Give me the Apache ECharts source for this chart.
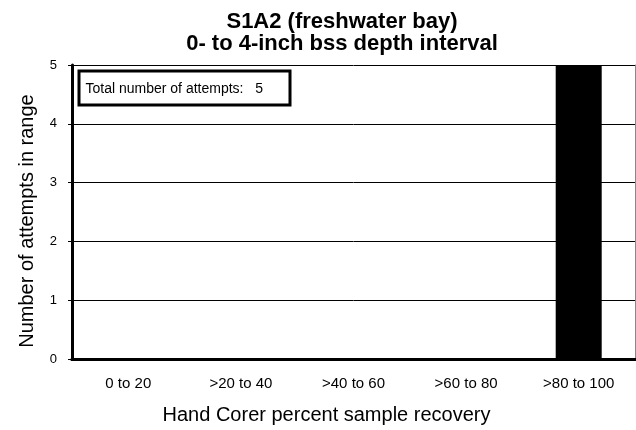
<!DOCTYPE html>
<html>
<head>
<meta charset="utf-8">
<script src="https://cdn.jsdelivr.net/npm/echarts@6/dist/echarts.min.js"></script>
<style>
  html, body { margin: 0; padding: 0; background: #fff; }
  #chart { width: 636px; height: 430px; }
</style>
</head>
<body>
<div id="chart"></div>
<script>
// recovery ranges (percent)
const categories = ['0 to 20', '>20 to 40', '>40 to 60', '>60 to 80', '>80 to 100']
// number of attempts per range
const attempts = [0, 0, 0, 0, 5]
const totalAttempts = 5

const chart = echarts.init(document.getElementById('chart'))
const font = 'Liberation Sans, Arial, sans-serif'
const narrow = 'Liberation Sans Narrow, Arial Narrow, Liberation Sans, sans-serif'

chart.setOption({
  animation: false,
  title: [
    {
      text: 'S1A2 (freshwater bay)\n0- to 4-inch bss depth interval',
      left: 342,
      textAlign: 'center',
      top: 11,
      padding: 0,
      textStyle: { fontFamily: font, fontSize: 22, fontWeight: 'bold', color: '#000', lineHeight: 22 }
    },
    {
      // total count box
      text: 'Total number of attempts:   ' + totalAttempts,
      left: 78.5,
      top: 70.5,
      padding: [12, 27, 9, 7],
      borderColor: '#000',
      borderWidth: 3,
      textStyle: { fontFamily: font, fontSize: 14, fontWeight: 'normal', color: '#000', lineHeight: 14 }
    }
  ],
  grid: {
    left: 72,
    right: 1,
    top: 65,
    bottom: 71
  },
  xAxis: [
    {
      type: 'category',
      data: categories,
      name: 'Hand Corer percent sample recovery',
      nameLocation: 'middle',
      nameGap: 46,
      nameTextStyle: { fontFamily: font, fontSize: 20, color: '#000', padding: [0, 54, 0, 0] },
      axisLine: { lineStyle: { color: '#000', width: 3 } },
      axisTick: { length: 6, lineStyle: { color: '#000', width: 1 } },
      axisLabel: { fontFamily: narrow, fontSize: 15, color: '#000', margin: 17 }
    },
    {
      // top border of the plot
      type: 'category',
      position: 'top',
      data: categories,
      axisLine: { lineStyle: { color: '#000', width: 3 } },
      axisTick: { show: false },
      axisLabel: { show: false }
    }
  ],
  yAxis: [
    {
      type: 'value',
      min: 0,
      max: 5,
      interval: 1,
      name: 'Number of attempts in range',
      nameLocation: 'middle',
      nameGap: 35,
      nameTextStyle: { fontFamily: font, fontSize: 20, color: '#000', padding: [0, 18, 0, 0] },
      axisLine: { show: true, lineStyle: { color: '#000', width: 3 } },
      axisTick: { show: true, length: 4, lineStyle: { color: '#000' } },
      axisLabel: { fontFamily: font, fontSize: 13, color: '#000', margin: 15 },
      splitLine: { lineStyle: { color: '#000', width: 1 } }
    },
    {
      // thin right edge of the plot
      type: 'value',
      position: 'right',
      min: 0,
      max: 5,
      interval: 1,
      axisLine: { show: true, lineStyle: { color: '#888', width: 1 } },
      axisTick: { show: false },
      axisLabel: { show: false },
      splitLine: { show: false }
    }
  ],
  series: [
    {
      type: 'bar',
      data: attempts,
      barWidth: 46,
      itemStyle: { color: '#000' }
    }
  ]
})
</script>
</body>
</html>
